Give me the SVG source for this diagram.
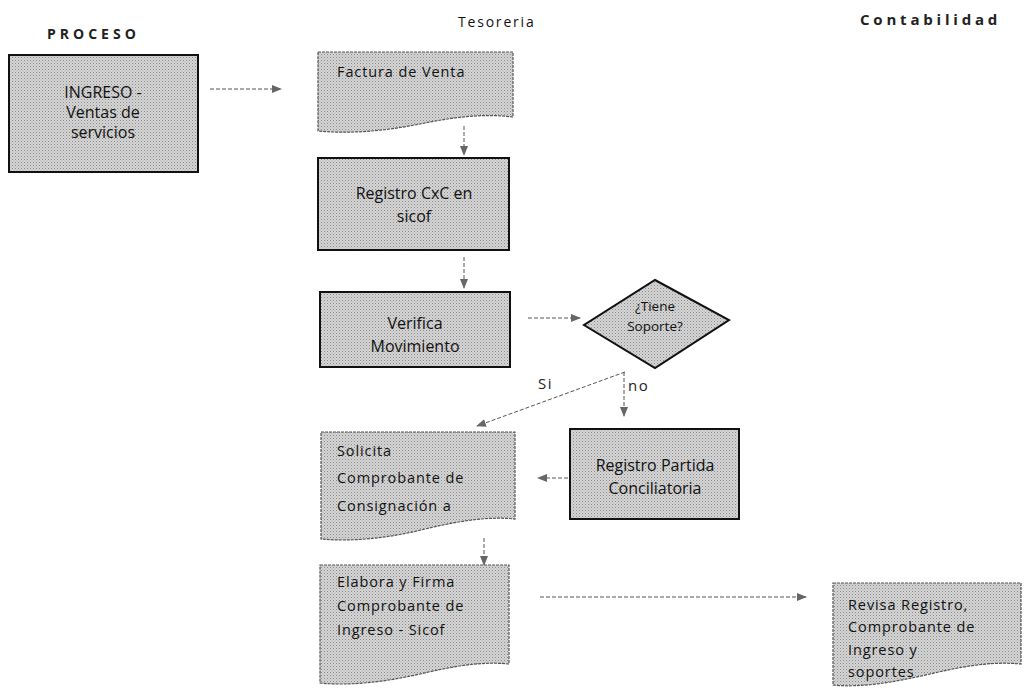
<svg xmlns="http://www.w3.org/2000/svg" width="1029" height="690" viewBox="0 0 1029 690">
<style>
.hdr{font-family:"Open Sans","DejaVu Sans",sans-serif;font-size:14px;font-weight:bold;letter-spacing:2.6px;fill:#222}
.t{font-family:"Open Sans","DejaVu Sans",sans-serif;font-size:16px;fill:#111;text-anchor:middle}
.tl{font-family:"Open Sans","DejaVu Sans",sans-serif;font-size:14.5px;fill:#111;letter-spacing:0.9px}
.lbl{font-family:"Open Sans","DejaVu Sans",sans-serif;font-size:15px;fill:#222;letter-spacing:1.5px}
.box{fill:url(#dots);stroke:#111;stroke-width:2}
.doc{fill:url(#dots);stroke:#555;stroke-width:1.2;stroke-dasharray:3 1}
.con{fill:none;stroke:#555;stroke-width:1;stroke-dasharray:4 2}
.sm{font-size:13.5px}
</style>
<defs>
<pattern id="dots" width="3" height="3" patternUnits="userSpaceOnUse">
<rect width="3" height="3" fill="#d6d6d6"/>
<rect x="0" y="0" width="1" height="1" fill="#888"/>
<rect x="1.5" y="1.5" width="1" height="1" fill="#a4a4a4"/>
</pattern>
<marker id="ah" markerWidth="10" markerHeight="8" refX="9" refY="4" orient="auto" markerUnits="userSpaceOnUse">
<path d="M0,0 L10,4 L0,8 Z" fill="#666"/>
</marker>
</defs>
<rect width="1029" height="690" fill="#fff"/>
<g id="headers">
<text class="hdr" x="47" y="39" style="letter-spacing:4px">PROCESO</text>
<text class="hdr" x="458" y="27" style="font-weight:normal;letter-spacing:1.8px;fill:#111">Tesoreria</text>
<text class="hdr" x="860" y="25" style="font-size:15px;letter-spacing:3.8px">Contabilidad</text>
</g>
<g id="connectors">
<line class="con" x1="210" y1="89" x2="281" y2="89" marker-end="url(#ah)"/>
<line class="con" x1="464" y1="126" x2="464" y2="155" marker-end="url(#ah)"/>
<line class="con" x1="464" y1="257" x2="464" y2="288" marker-end="url(#ah)"/>
<line class="con" x1="528" y1="318" x2="580" y2="318" marker-end="url(#ah)"/>
<line class="con" x1="625" y1="372" x2="477" y2="426" marker-end="url(#ah)"/>
<line class="con" x1="624" y1="372" x2="624" y2="416" marker-end="url(#ah)"/>
<line class="con" x1="568" y1="478" x2="538" y2="478" marker-end="url(#ah)"/>
<line class="con" x1="484" y1="538" x2="484" y2="565" marker-end="url(#ah)"/>
<line class="con" x1="540" y1="597" x2="806" y2="597" marker-end="url(#ah)"/>
</g>
<g id="ingreso">
<rect class="box" x="9" y="55" width="189" height="117"/>
<text class="t" x="103" y="98">INGRESO -</text>
<text class="t" x="103" y="118">Ventas de</text>
<text class="t" x="103" y="138">servicios</text>
</g>
<g id="factura">
<path class="doc" d="M318,52 H513 V117 C480,113 450,118 420,124 C385,131 350,134 318,131 Z"/>
<text class="tl" x="337" y="77">Factura de Venta</text>
</g>
<g id="registro-cxc">
<rect class="box" x="318" y="158" width="191" height="92"/>
<text class="t" x="414" y="199">Registro CxC en</text>
<text class="t" x="414" y="222">sicof</text>
</g>
<g id="verifica">
<rect class="box" x="320" y="292" width="190" height="75"/>
<text class="t" x="415" y="329">Verifica</text>
<text class="t" x="415" y="352">Movimiento</text>
</g>
<g id="decision">
<path class="box" stroke-width="1.8" d="M655,280 L729,320 L655,368 L584,325 Z"/>
<text class="t sm" x="655" y="311">¿Tiene</text>
<text class="t sm" x="655" y="331">Soporte?</text>
</g>
<g id="labels">
<text class="lbl" x="538" y="389">Si</text>
<text class="lbl" x="628" y="391">no</text>
</g>
<g id="solicita">
<path class="doc" d="M321,432 H515 V519 C485,516 455,522 425,529 C390,538 352,542 321,539 Z"/>
<text class="tl" x="337" y="456">Solicita</text>
<text class="tl" x="337" y="483">Comprobante de</text>
<text class="tl" x="337" y="511">Consignación a</text>
</g>
<g id="registro-partida">
<rect class="box" x="570" y="429" width="169" height="90"/>
<text class="t" x="655" y="471">Registro Partida</text>
<text class="t" x="655" y="494">Conciliatoria</text>
</g>
<g id="elabora">
<path class="doc" d="M320,565 H509 V664 C480,661 450,667 420,674 C385,682 350,686 320,683 Z"/>
<text class="tl" x="337" y="587">Elabora y Firma</text>
<text class="tl" x="337" y="611">Comprobante de</text>
<text class="tl" x="337" y="635">Ingreso - Sicof</text>
</g>
<g id="revisa">
<path class="doc" d="M833,583 H1021 V664 C990,661 960,667 930,674 C895,682 862,688 833,685 Z"/>
<text class="tl" x="848" y="610">Revisa Registro,</text>
<text class="tl" x="848" y="632">Comprobante de</text>
<text class="tl" x="848" y="655">Ingreso y</text>
<text class="tl" x="848" y="677">soportes</text>
</g>
</svg>
